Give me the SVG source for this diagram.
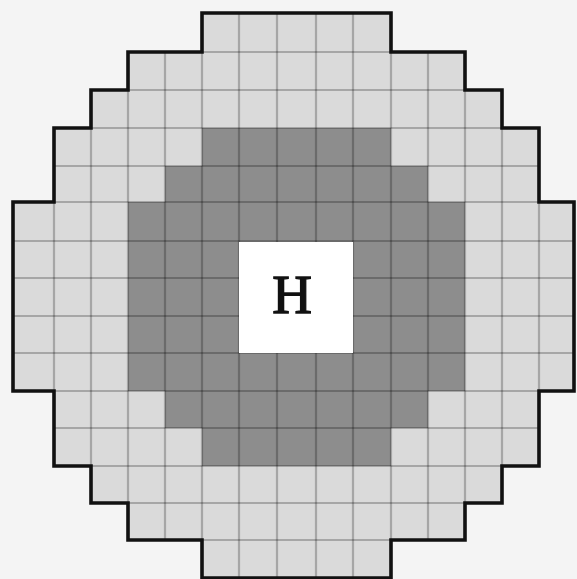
<svg xmlns="http://www.w3.org/2000/svg" width="577" height="579" viewBox="0 0 577 579">
  <style>
    .bg { fill: #f4f4f4; }
    .light { fill: #dadada; }
    .dark { fill: #8d8d8d; }
    .grid line { stroke: #000; stroke-opacity: 0.24; stroke-width: 2.2; }
    .outline { fill: none; stroke: #111; stroke-width: 3.6; stroke-linejoin: miter; }
    .center { fill: #ffffff; }
    .label { font-family: "Liberation Serif", "DejaVu Serif", serif; font-size: 55px; fill: #111; stroke: #111; stroke-width: 1.3; text-anchor: middle; }
  </style>
  <defs>
    <clipPath id="shapeClip">
      <polygon points="202,13 391,13 391,52 465,52 465,90 502,90 502,128 539,128 539,202 574,202 574,391 539,391 539,466 502,466 502,503 465,503 465,540 391,540 391,578 202,578 202,540 128,540 128,503 91,503 91,466 54,466 54,391 13,391 13,202 54,202 54,128 91,128 91,90 128,90 128,52 202,52"/>
    </clipPath>
  </defs>
  <rect class="bg" x="0" y="0" width="577" height="579"/>
  <g id="light-zone">
    <polygon class="light" points="202,13 391,13 391,52 465,52 465,90 502,90 502,128 539,128 539,202 574,202 574,391 539,391 539,466 502,466 502,503 465,503 465,540 391,540 391,578 202,578 202,540 128,540 128,503 91,503 91,466 54,466 54,391 13,391 13,202 54,202 54,128 91,128 91,90 128,90 128,52 202,52"/>
  </g>
  <g id="dark-zone">
    <polygon class="dark" points="202,128 391,128 391,166 428,166 428,202 465,202 465,391 428,391 428,428 391,428 391,466 202,466 202,428 165,428 165,391 128,391 128,202 165,202 165,166 202,166"/>
  </g>
  <g id="grid" class="grid" clip-path="url(#shapeClip)">
    <line x1="54" y1="0" x2="54" y2="579"/>
    <line x1="91" y1="0" x2="91" y2="579"/>
    <line x1="128" y1="0" x2="128" y2="579"/>
    <line x1="165" y1="0" x2="165" y2="579"/>
    <line x1="202" y1="0" x2="202" y2="579"/>
    <line x1="239" y1="0" x2="239" y2="579"/>
    <line x1="277" y1="0" x2="277" y2="579"/>
    <line x1="316" y1="0" x2="316" y2="579"/>
    <line x1="353" y1="0" x2="353" y2="579"/>
    <line x1="391" y1="0" x2="391" y2="579"/>
    <line x1="428" y1="0" x2="428" y2="579"/>
    <line x1="465" y1="0" x2="465" y2="579"/>
    <line x1="502" y1="0" x2="502" y2="579"/>
    <line x1="539" y1="0" x2="539" y2="579"/>
    <line x1="0" y1="52" x2="577" y2="52"/>
    <line x1="0" y1="90" x2="577" y2="90"/>
    <line x1="0" y1="128" x2="577" y2="128"/>
    <line x1="0" y1="166" x2="577" y2="166"/>
    <line x1="0" y1="202" x2="577" y2="202"/>
    <line x1="0" y1="241" x2="577" y2="241"/>
    <line x1="0" y1="278" x2="577" y2="278"/>
    <line x1="0" y1="316" x2="577" y2="316"/>
    <line x1="0" y1="353" x2="577" y2="353"/>
    <line x1="0" y1="391" x2="577" y2="391"/>
    <line x1="0" y1="428" x2="577" y2="428"/>
    <line x1="0" y1="466" x2="577" y2="466"/>
    <line x1="0" y1="503" x2="577" y2="503"/>
    <line x1="0" y1="540" x2="577" y2="540"/>
  </g>
  <g id="outline">
    <polygon class="outline" points="202,13 391,13 391,52 465,52 465,90 502,90 502,128 539,128 539,202 574,202 574,391 539,391 539,466 502,466 502,503 465,503 465,540 391,540 391,578 202,578 202,540 128,540 128,503 91,503 91,466 54,466 54,391 13,391 13,202 54,202 54,128 91,128 91,90 128,90 128,52 202,52"/>
  </g>
  <g id="center-H">
    <rect class="center" x="239" y="242" width="114" height="111"/>
    <text class="label" x="292" y="313">H</text>
  </g>
</svg>
